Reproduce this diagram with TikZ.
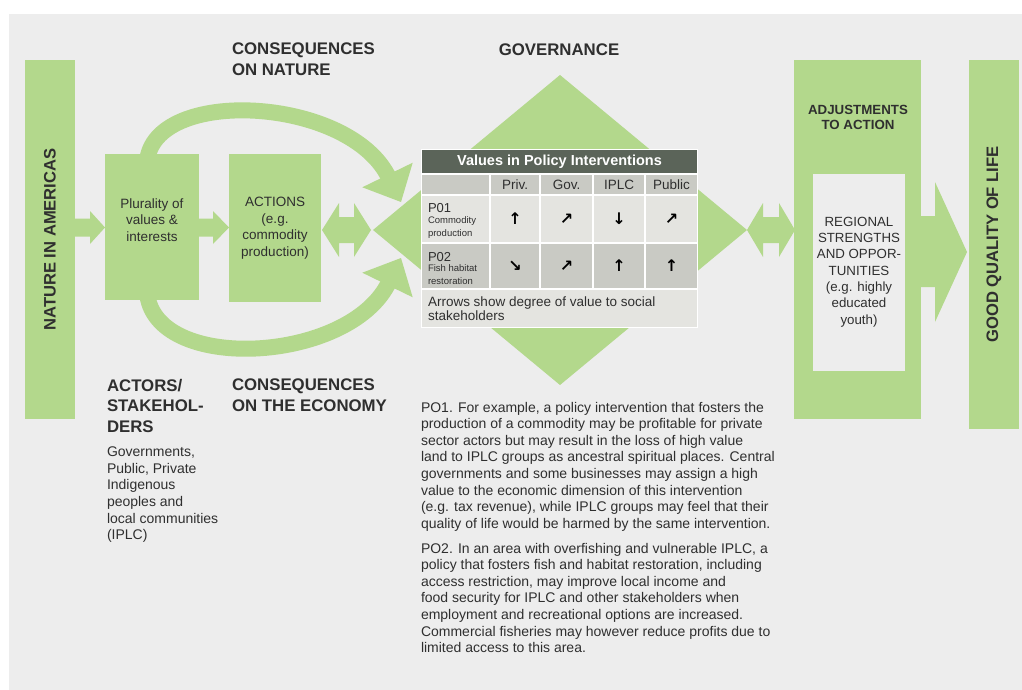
\documentclass[tikz,border=0pt]{standalone}
\usepackage{fontspec}
\setmainfont{Liberation Sans}
\newfontfamily\symfont{DejaVu Sans}
\usetikzlibrary{calc}
\definecolor{bg}{HTML}{EDEDED}
\definecolor{grn}{HTML}{B3D88C}
\definecolor{tdark}{HTML}{5B6459}
\definecolor{tmid}{HTML}{C9CAC4}
\definecolor{tlight}{HTML}{E4E4E0}
\definecolor{txt}{HTML}{2F2F2F}
\newcommand\myfs[2]{\fontsize{#1}{#2}\selectfont}
\begin{document}
\begin{tikzpicture}[x=1pt,y=-1pt,
  every node/.style={inner sep=0pt, outer sep=0pt, text=txt},
  gbox/.style={fill=grn, draw=none},
  headtxt/.style={font=\myfs{16.8}{20.5}\bfseries, align=left, anchor=north west},
  smalltxt/.style={font=\myfs{14}{16.6}, align=left, anchor=north west},
  boxtxt/.style={font=\myfs{13.5}{16.5}, align=center},
  vtxt/.style={font=\myfs{16.6}{18}\bfseries},
  glyph/.style={font=\symfont\bfseries\myfs{16}{16}, text=black},
  hdr/.style={font=\myfs{13.5}{15}},
  arc/.style={draw=grn, line width=16pt}
]
\useasboundingbox (0,0) rectangle (1022,690);
\fill[bg] (9,14) rectangle (1022,690);

% governance diamond
\fill[grn] (560,75) -- (747,230) -- (560,385) -- (373,230) -- cycle;

% curved arrows
\draw[arc] (147,162) .. controls (153,86) and (350,96) .. (389,178);
\fill[grn] (362.3,187.3) -- (412.7,162.7) -- (401,202) -- cycle;
\draw[arc] (147,292) .. controls (153,374) and (350,364) .. (389,282);
\fill[grn] (362.3,272.7) -- (412.7,297.3) -- (401,258) -- cycle;

% boxes
\node[gbox, rotate=90, minimum width=359, minimum height=50, vtxt] (nat) at (50,239.5) {NATURE IN AMERICAS};
\node[gbox, minimum width=94, minimum height=146] (plur) at (152,227) {};
\node[boxtxt] (plurt) at (152,220) {Plurality of\\values \&\\interests};
\node[gbox, minimum width=92, minimum height=148, boxtxt] (act) at (275,228) {ACTIONS\\(e.g.\\commodity\\production)};
\node[gbox, minimum width=127, minimum height=359] (adj) at (857.5,239.5) {};
\node[fill=bg, minimum width=92, minimum height=197] (reg) at (859,272.5) {};
\node[boxtxt, font=\myfs{13.3}{15}\bfseries, anchor=north] (adjt) at (858,105) {ADJUSTMENTS\\TO ACTION};
\node[boxtxt, font=\myfs{13.3}{16.3}] (regt) at (859,272) {REGIONAL\\STRENGTHS\\AND OPPOR-\\TUNITIES\\(e.g. highly\\educated\\youth)};
\node[gbox, rotate=90, minimum width=369, minimum height=50, vtxt] (gql) at (994,244.5) {GOOD QUALITY OF LIFE};

% block arrows
\fill[grn] (75,218.5) -- (90,218.5) -- (90,211) -- (105,227.5) -- (90,244) -- (90,236.5) -- (75,236.5) -- cycle;
\fill[grn] (199,218.5) -- (213,218.5) -- (213,211) -- (229,227.5) -- (213,244) -- (213,236.5) -- (199,236.5) -- cycle;
\fill[grn] (322,230) -- (339,203) -- (339,217) -- (354,217) -- (354,203) -- (371,230) -- (354,257) -- (354,243) -- (339,243) -- (339,257) -- cycle;
\fill[grn] (747,230) -- (763,203) -- (763,217) -- (779,217) -- (779,203) -- (795,230) -- (779,257) -- (779,243) -- (763,243) -- (763,257) -- cycle;
\fill[grn] (920,216) -- (935,216) -- (935,182) -- (967,252) -- (935,322) -- (935,287) -- (920,287) -- cycle;

% table
\fill[white] (421,149) rectangle (698,328);
\fill[tdark] (422,150) rectangle (697,173);
\foreach \a/\b in {422/489, 491/539, 541/592, 594/644, 646/697} {
  \fill[tmid] (\a,175) rectangle (\b,194);
  \fill[tlight] (\a,196) rectangle (\b,242);
  \fill[tmid] (\a,244) rectangle (\b,288);
}
\fill[tlight] (422,290) rectangle (697,327);
\node[text=white, font=\myfs{14.5}{16}\bfseries] (ttl) at (559.5,161.5) {Values in Policy Interventions};
\node[hdr] (hpriv) at (515,184.5) {Priv.};
\node[hdr] (hgov) at (566.5,184.5) {Gov.};
\node[hdr] (hiplc) at (619,184.5) {IPLC};
\node[hdr] (hpub) at (671.5,184.5) {Public};
\node[anchor=north west, font=\myfs{13}{14}] (p1) at (428,203) {P01};
\node[anchor=north west, font=\myfs{9.5}{13}, align=left] (p1t) at (428,217) {Commodity\\production};
\node[anchor=north west, font=\myfs{13}{14}] (p2) at (428,252) {P02};
\node[anchor=north west, font=\myfs{9.5}{13}, align=left] (p2t) at (428,265) {Fish habitat\\restoration};
\node[glyph] (a11) at (515,219) {↑};
\node[glyph] (a12) at (566.5,219) {↗};
\node[glyph] (a13) at (619,219) {↓};
\node[glyph] (a14) at (671.5,219) {↗};
\node[glyph] (a21) at (515,266) {↘};
\node[glyph] (a22) at (566.5,266) {↗};
\node[glyph] (a23) at (619,266) {↑};
\node[glyph] (a24) at (671.5,266) {↑};
\node[anchor=north west, align=left, font=\myfs{13.5}{14}] (foot) at (428,297) {Arrows show degree of value to social\\stakeholders};

% headings
\node[headtxt] (cn) at (232,43) {CONSEQUENCES\\ON NATURE};
\node[headtxt, anchor=north] (gv) at (559,44) {GOVERNANCE};
\node[headtxt] (ac) at (107,379) {ACTORS/\\STAKEHOL-\\DERS};
\node[headtxt] (ce) at (232,379) {CONSEQUENCES\\ON THE ECONOMY};
\node[smalltxt] (acs) at (107,447) {Governments,\\Public, Private\\Indigenous\\peoples and\\local communities\\(IPLC)};
\node[smalltxt] (po1) at (421,402) {PO1. For example, a policy intervention that fosters the\\production of a commodity may be profitable for private\\sector actors but may result in the loss of high value\\land to IPLC groups as ancestral spiritual places. Central\\governments and some businesses may assign a high\\value to the economic dimension of this intervention\\(e.g. tax revenue), while IPLC groups may feel that their\\quality of life would be harmed by the same intervention.};
\node[smalltxt] (po2) at (421,543) {PO2. In an area with overfishing and vulnerable IPLC, a\\policy that fosters fish and habitat restoration, including\\access restriction, may improve local income and\\food security for IPLC and other stakeholders when\\employment and recreational options are increased.\\Commercial fisheries may however reduce profits due to\\limited access to this area.};
\end{tikzpicture}
\end{document}
